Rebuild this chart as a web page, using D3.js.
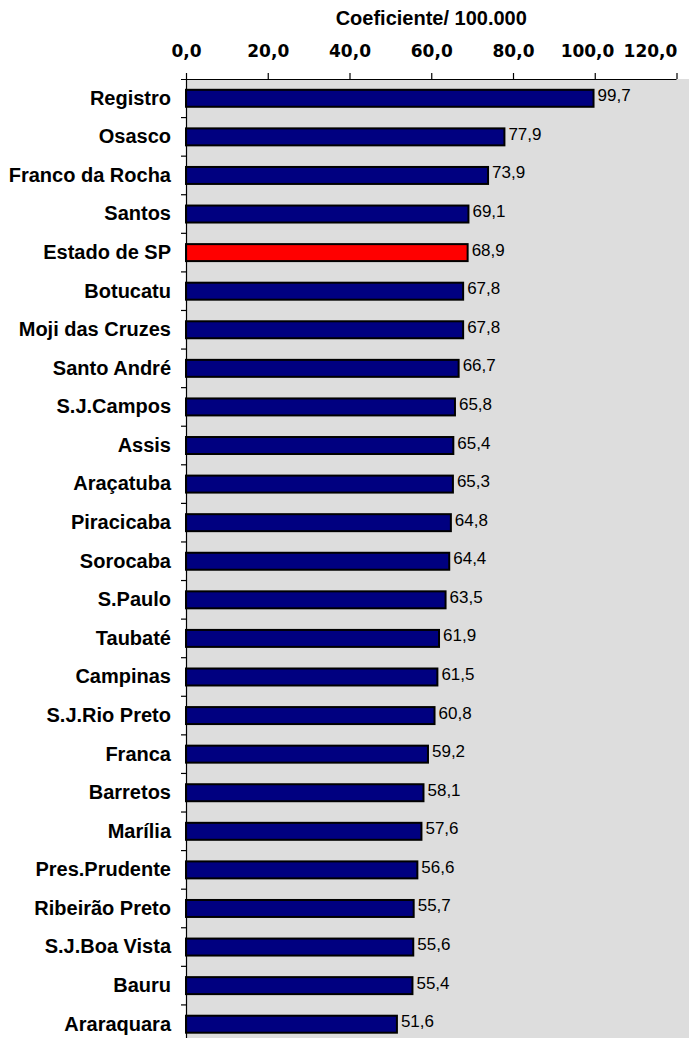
<!DOCTYPE html>
<html>
<head>
<meta charset="utf-8">
<script src="https://cdn.jsdelivr.net/npm/d3@7"></script>
<style>
  html, body { margin: 0; padding: 0; background: #ffffff; }
  svg { display: block; }
</style>
</head>
<body>
<div id="chart"></div>
<script>
const categories = ["Registro","Osasco","Franco da Rocha","Santos","Estado de SP","Botucatu","Moji das Cruzes","Santo André","S.J.Campos","Assis","Araçatuba","Piracicaba","Sorocaba","S.Paulo","Taubaté","Campinas","S.J.Rio Preto","Franca","Barretos","Marília","Pres.Prudente","Ribeirão Preto","S.J.Boa Vista","Bauru","Araraquara"];
const values = [99.7,77.9,73.9,69.1,68.9,67.8,67.8,66.7,65.8,65.4,65.3,64.8,64.4,63.5,61.9,61.5,60.8,59.2,58.1,57.6,56.6,55.7,55.6,55.4,51.6];
const highlight = "Estado de SP";
const tickValues = [0,20,40,60,80,100,120];
const axisTitle = "Coeficiente/ 100.000";

(function () {
const W = 689, H = 1038;
const mLeft = 186, mRight = 676.5, mTop = 79, step = 38.58;

const loc = d3.formatLocale({decimal: ",", thousands: ".", grouping: [3], currency: ["R$", ""]});
const fmt = loc.format(".1f");

const svg = d3.select("#chart").append("svg").attr("width", W).attr("height", H);

const x = d3.scaleLinear().domain([0, 120]).range([mLeft, mRight]);
const y = d3.scaleBand().domain(categories).range([mTop, mTop + step * categories.length]).paddingInner(0.56).paddingOuter(0.28);

// plot background
svg.append("rect").attr("x", mLeft).attr("y", mTop).attr("width", W - mLeft).attr("height", H - mTop).attr("fill", "#dddddd");

// bars
svg.append("g").selectAll("rect").data(categories).join("rect")
  .attr("x", x(0))
  .attr("y", d => y(d))
  .attr("width", (d, i) => x(values[i]) - x(0))
  .attr("height", y.bandwidth())
  .attr("fill", d => d === highlight ? "#ff0000" : "#000080")
  .attr("stroke", "#000")
  .attr("stroke-width", 2);

// value labels
svg.append("g").selectAll("text").data(categories).join("text")
  .attr("x", (d, i) => x(values[i]) + 4)
  .attr("y", d => y(d) + y.bandwidth() / 2 + 3)
  .attr("font-family", "'Liberation Sans', Arial, sans-serif")
  .attr("font-size", 17)
  .attr("fill", "#000")
  .text((d, i) => fmt(values[i]));

// top axis
const xAxis = d3.axisTop(x).tickValues(tickValues).tickSize(6).tickSizeOuter(0).tickPadding(16).tickFormat(fmt);
const gx = svg.append("g").attr("transform", `translate(0,${mTop})`).call(xAxis);
gx.select(".domain").attr("d", `M${mLeft - 5},0.5H${mRight}`).attr("stroke", "#000").attr("stroke-width", 1.2);
gx.selectAll(".tick line").attr("stroke", "#000").attr("stroke-width", 1.2);
gx.selectAll(".tick text")
  .attr("font-family", "'DejaVu Sans', Verdana, sans-serif")
  .attr("font-weight", "bold")
  .attr("font-size", 17)
  .attr("fill", "#000");
// keep labels inside the plot's right end and apart from each other (right to left)
const tickNodes = gx.selectAll(".tick text").nodes();
let limit = mRight + 1;
for (let k = tickNodes.length - 1; k >= 0; k--) {
  const node = tickNodes[k];
  const bb = node.getBBox();
  const t = d3.select(node.parentNode).attr("transform");
  const tx = +t.match(/translate\(([-\d.]+)/)[1];
  const rightEdge = tx + bb.x + bb.width;
  let shift = 0;
  if (rightEdge > limit) shift = limit - rightEdge;
  d3.select(node).attr("x", shift);
  limit = tx + bb.x + shift - 9;
}

// left axis
const yAxis = d3.axisLeft(y).tickSize(0).tickPadding(15);
const gy = svg.append("g").attr("transform", `translate(${mLeft},0)`).call(yAxis);
gy.select(".domain").remove();
gy.selectAll(".tick text")
  .attr("font-family", "'Liberation Sans', Arial, sans-serif")
  .attr("font-weight", "bold")
  .attr("font-size", 20)
  .attr("fill", "#000");
svg.append("line").attr("x1", mLeft + 0.5).attr("x2", mLeft + 0.5).attr("y1", mTop).attr("y2", H)
  .attr("stroke", "#000").attr("stroke-width", 1.2);
// category separator ticks
svg.append("g").selectAll("line").data(categories.slice(1)).join("line")
  .attr("x1", mLeft - 5).attr("x2", mLeft)
  .attr("y1", d => y(d) - y.step() * y.paddingInner() / 2)
  .attr("y2", d => y(d) - y.step() * y.paddingInner() / 2)
  .attr("stroke", "#000").attr("stroke-width", 1.2);

// axis title
svg.append("text")
  .attr("x", (mLeft + mRight) / 2).attr("y", 25)
  .attr("text-anchor", "middle")
  .attr("font-family", "'Liberation Sans', Arial, sans-serif")
  .attr("font-weight", "bold")
  .attr("font-size", 20)
  .attr("fill", "#000")
  .text(axisTitle);
})();
</script>
</body>
</html>
